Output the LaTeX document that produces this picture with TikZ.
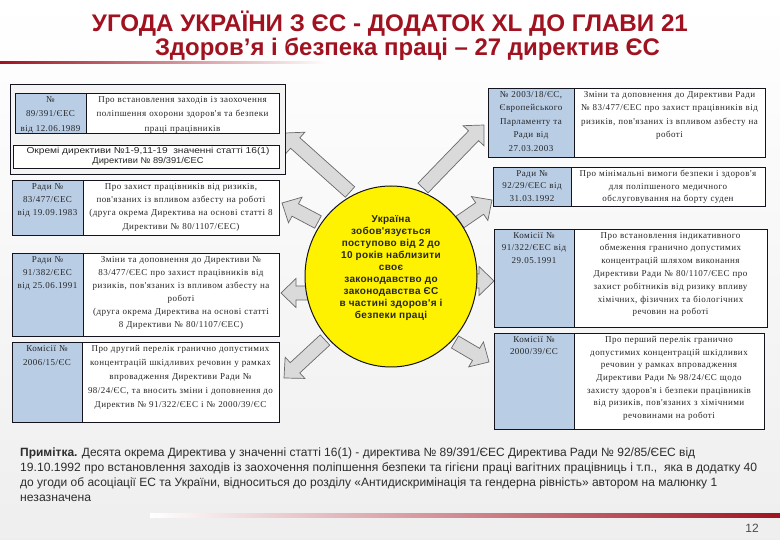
\documentclass[tikz,border=0pt]{standalone}
\usepackage{fontspec}
\setmainfont{Liberation Serif}
\newfontfamily\arialf{Liberation Sans}
\newfontfamily\cellfont[LetterSpace=5]{Liberation Serif}
\newfontfamily\circlefont[LetterSpace=3]{Liberation Sans}
\usetikzlibrary{shapes.geometric}
\definecolor{titlered}{RGB}{160,18,32}
\definecolor{cellblue}{RGB}{185,205,229}
\definecolor{arrowgray}{RGB}{218,218,218}
\definecolor{arrowline}{RGB}{105,105,105}
\definecolor{boxline}{RGB}{20,20,30}
\definecolor{notegray}{RGB}{45,45,45}

\tikzset{
  bluecell/.style={rectangle,draw=boxline,fill=cellblue,line width=0.9pt,inner sep=0pt},
  whitecell/.style={rectangle,draw=boxline,fill=white,line width=0.9pt,inner sep=0pt},
  celltext/.style={inner sep=0pt,align=center,text=black!85},
  arrowstyle/.style={draw=arrowline,fill=arrowgray,line width=0.7pt,line join=miter},
  notestyle/.style={anchor=base west,inner sep=0pt,text=notegray,font={\arialf\fontsize{12}{14}\selectfont}}
}

% block arrow from tail (#1,#2) to tip (#3,#4)
\newcommand\blockarrow[4]{%
  \pgfmathsetmacro\baang{atan2(#2-#4,#3-#1)}%
  \pgfmathsetmacro\balen{veclen(#3-#1,#4-#2)}%
  \pgfmathsetmacro\babase{\balen-15}%
  \begin{scope}[shift={(#1,#2)},rotate=\baang]
    \draw[arrowstyle] (0,-7) -- (\babase,-7) -- (\babase,-14.5) -- (\balen,0)
      -- (\babase,14.5) -- (\babase,7) -- (0,7) -- cycle;
  \end{scope}}

% two-cell row: #1 name, #2 x1, #3 y1, #4 x split, #5 x2, #6 y2, #7 left text, #8 right text, #9 baselineskip
\newcommand\cellpair[9]{%
  \pgfmathsetmacro\cpw{#4-#2}\pgfmathsetmacro\cpv{#5-#4}\pgfmathsetmacro\cph{#6-#3}%
  \pgfmathsetmacro\cpa{(#2+#4)/2}\pgfmathsetmacro\cpb{(#4+#5)/2}\pgfmathsetmacro\cpc{(#3+#6)/2}%
  \pgfmathsetmacro\cpt{#3+3}%
  \pgfmathsetmacro\cpwt{#4-#2-2}\pgfmathsetmacro\cpvt{#5-#4-2}%
  \node[bluecell,minimum width=\cpw pt,minimum height=\cph pt] (#1a) at (\cpa,\cpc) {};
  \node[whitecell,minimum width=\cpv pt,minimum height=\cph pt] (#1b) at (\cpb,\cpc) {};
  \node[celltext,text width=\cpwt pt,anchor=north,font={\cellfont\fontsize{9}{#9}\selectfont}] (#1c) at (\cpa,\cpt) {#7};
  \node[celltext,text width=\cpvt pt,anchor=north,font={\cellfont\fontsize{9}{#9}\selectfont}] (#1d) at (\cpb,\cpt) {#8};
}

\begin{document}
\begin{tikzpicture}[x=1pt,y=-1pt]
\useasboundingbox (0,0) rectangle (780,540);
\shade[top color=white,bottom color=gray!13] (0,0) rectangle (780,540);

% title
\node[anchor=base,inner sep=0pt,text=titlered,font={\arialf\bfseries\fontsize{24}{28}\selectfont}] (t1) at (390,32)
  {\resizebox{596pt}{\height}{УГОДА УКРАЇНИ З ЄС - ДОДАТОК XL ДО ГЛАВИ 21}};
\node[anchor=base,inner sep=0pt,text=titlered,font={\arialf\bfseries\fontsize{24}{28}\selectfont}] (t2) at (407.5,56)
  {\resizebox{505pt}{\height}{Здоров’я і безпека праці – 27 директив ЄС}};
\shade[left color=titlered,right color=white] (0,61.5) rectangle (330,64);
\shade[left color=white,right color=titlered] (150,513) rectangle (780,517);
\node[inner sep=0pt,text=gray!60!black,font={\arialf\fontsize{12}{14}\selectfont}] (pg) at (752,528) {12};

% arrows (behind boxes and circle)
\blockarrow{350}{192}{284}{133}
\blockarrow{318}{222}{282}{203}
\blockarrow{310}{293}{281}{293}
\blockarrow{325}{340}{284}{378}
\blockarrow{423}{188}{484}{125}
\blockarrow{460}{222}{492}{200}
\blockarrow{474}{281}{494}{281}
\blockarrow{455}{342}{489}{362}

% left panel
\node[rectangle,draw=boxline,fill=gray!9,line width=0.9pt,minimum width=275pt,minimum height=90pt,inner sep=0pt] (lpanel) at (147.5,129) {};
\cellpair{l1}{15}{93}{86}{279}{133}{№\\89/391/ЄЕС\\від 12.06.1989}{Про встановлення заходів із заохочення\\поліпшення охорони здоров'я та безпеки\\праці працівників}{14.5}
\node[rectangle,draw=boxline,fill=white,line width=0.9pt,minimum width=266pt,minimum height=23pt,inner sep=0pt] (l1n) at (146,156.5) {};
\node[celltext,font={\arialf\fontsize{8.6}{9.6}\selectfont}] (l1nt) at (148,156.5)
  {\resizebox{243pt}{\height}{Окремі директиви №1-9,11-19 \ значенні статті 16(1)}\\\resizebox{111pt}{\height}{Директиви № 89/391/ЄЕС}};

\cellpair{l2}{12}{180}{83}{279}{235}{Ради №\\83/477/ЄЕС\\від 19.09.1983}{Про захист працівників від ризиків,\\пов'язаних із впливом азбесту на роботі\\(друга окрема Директива на основі статті 8\\Директиви № 80/1107/ЄЕС)}{13.3}
\cellpair{l3}{12}{253}{83}{279}{336}{Ради №\\91/382/ЄЕС\\від 25.06.1991}{Зміни та доповнення до Директиви №\\83/477/ЄЕС про захист працівників від\\ризиків, пов'язаних із впливом азбесту на\\роботі\\(друга окрема Директива на основі статті\\8 Директиви № 80/1107/ЄЕС)}{13}
\cellpair{l4}{12}{342}{82}{279}{422}{Комісії №\\2006/15/ЄС}{Про другий перелік гранично допустимих\\концентрацій шкідливих речовин у рамках\\впровадження Директиви Ради №\\98/24/ЄС, та вносить зміни і доповнення до\\Директив № 91/322/ЄЕС і № 2000/39/ЄС}{14}

% right column
\cellpair{r1}{488}{88}{574}{765}{157}{№ 2003/18/ЄС,\\Європейського\\Парламенту та\\Ради від\\27.03.2003}{Зміни та доповнення до Директиви Ради\\№ 83/477/ЄЕС про захист працівників від\\ризиків, пов'язаних із впливом азбесту на\\роботі}{13.5}
\cellpair{r2}{493}{167}{571}{765}{206}{Ради №\\92/29/ЄЕС від\\31.03.1992}{Про мінімальні вимоги безпеки і здоров'я\\для поліпшеного медичного\\обслуговування на борту суден}{12.5}
\cellpair{r3}{494}{229}{574}{767}{327}{Комісії №\\91/322/ЄЕС від\\29.05.1991}{Про встановлення індикативного\\обмеження гранично допустимих\\концентрацій шляхом виконання\\Директиви Ради № 80/1107/ЄЕС про\\захист робітників від ризику впливу\\хімічних, фізичних та біологічних\\речовин на роботі}{12.8}
\cellpair{r4}{494}{333}{574}{764}{429}{Комісії №\\2000/39/ЄС}{Про перший перелік гранично\\допустимих концентрацій шкідливих\\речовин у рамках впровадження\\Директиви Ради № 98/24/ЄС щодо\\захисту здоров'я і безпеки працівників\\від ризиків, пов'язаних з хімічними\\речовинами на роботі}{12.7}

% centre
\node[ellipse,draw=boxline,fill=yellow,line width=1pt,minimum width=172pt,minimum height=181pt,inner sep=0pt] (centre) at (391,276.5) {};
\node[align=center,inner sep=0pt,text=black!85,font={\circlefont\bfseries\fontsize{10}{12.1}\selectfont}] (ctext) at (391,268)
  {Україна\\зобов'язується\\поступово від 2 до\\10 років наблизити\\своє\\законодавство до\\законодавства ЄС\\в частині здоров'я і\\безпеки праці};

% note
\node[notestyle] (n1) at (20,456) {\resizebox{675pt}{\height}{\textbf{Примітка.} Десята окрема Директива у значенні статті 16(1) - директива № 89/391/ЄЕС Директива Ради № 92/85/ЄЕС від}};
\node[notestyle] (n2) at (20,471) {\resizebox{737pt}{\height}{19.10.1992 про встановлення заходів із заохочення поліпшення безпеки та гігієни праці вагітних працівниць і т.п., \ яка в додатку 40}};
\node[notestyle] (n3) at (20,486) {\resizebox{697pt}{\height}{до угоди об асоціації ЕС та України, відноситься до розділу «Антидискримінація та гендерна рівність» автором на малюнку 1}};
\node[notestyle] (n4) at (20,501) {\resizebox{71pt}{\height}{незазначена}};
\end{tikzpicture}
\end{document}
